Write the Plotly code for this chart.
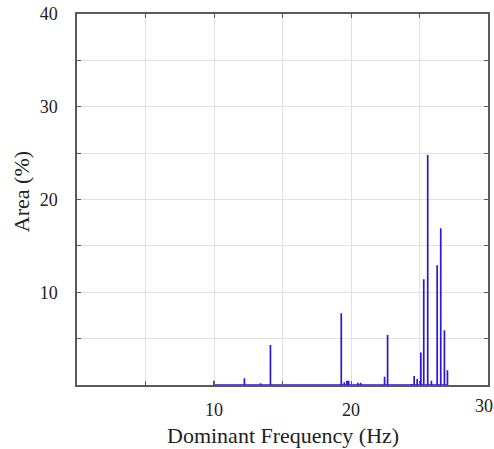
import plotly.graph_objects as go

# Dominant frequency (Hz) of each spike and its area (%)
freq = [10.0, 12.22, 13.4, 14.12, 19.29, 19.51, 19.7, 19.83, 20.5, 20.7,
        22.45, 22.67, 24.42, 24.61, 24.83, 25.1, 25.31, 25.6, 25.87,
        26.29, 26.55, 26.82, 27.04]
area = [0.45, 0.72, 0.2, 4.3, 7.73, 0.3, 0.47, 0.47, 0.25, 0.25,
        0.9, 5.4, 0.1, 0.97, 0.65, 3.5, 11.4, 24.8, 0.47,
        12.9, 16.9, 5.9, 1.6]

x_ticks = [0, 5, 10, 15, 20, 25, 30]
x_text = ["", "", "10", "", "20", "", ""]
x_edge_label = "30"
y_ticks = [0, 5, 10, 15, 20, 25, 30, 35, 40]
y_text = ["", "", "10", "", "20", "", "30", "", "40"]

# build spike polyline from the data
xs, ys = [], []
for f, a in zip(freq, area):
    xs += [f, f, f]
    ys += [0, a, 0]

fig = go.Figure()
fig.add_trace(go.Scatter(x=xs, y=ys, mode="lines",
                         line=dict(color="#2a17d8", width=1.7),
                         showlegend=False, hoverinfo="skip"))

font_family = "Liberation Serif, Times New Roman, serif"
tick_font = dict(family=font_family, size=18, color="#222")
axis_common = dict(
    showline=True, linecolor="#5a5a5a", linewidth=1.5, mirror="ticks",
    ticks="inside", ticklen=4, tickcolor="#5a5a5a", tickwidth=1,
    showgrid=True, gridcolor="#e2e2e2", gridwidth=1, zeroline=False,
    tickfont=tick_font,
    automargin=False, ticklabeloverflow="allow",
)
fig.update_xaxes(range=[0, 30], tickmode="array", tickvals=x_ticks, ticktext=x_text,
                 ticklabelstandoff=8, **axis_common)
fig.update_yaxes(range=[0, 40], tickmode="array", tickvals=y_ticks, ticktext=y_text,
                 ticklabelstandoff=14, **axis_common)
fig.update_layout(width=494, height=449,
                  margin=dict(l=77, r=6, t=14, b=64),
                  plot_bgcolor="white", paper_bgcolor="white",
                  annotations=[
                      dict(text=x_edge_label, xref="x", yref="paper",
                           x=x_ticks[-1], y=-0.057, xanchor="center", yanchor="middle",
                           xshift=-4, showarrow=False, font=tick_font),
                      dict(text="Dominant Frequency (Hz)", xref="paper", yref="paper",
                           x=0.5, y=-0.136, xanchor="center", yanchor="middle",
                           showarrow=False,
                           font=dict(family=font_family, size=22, color="#222")),
                      dict(text="Area (%)", xref="paper", yref="paper",
                           x=-0.136, y=0.52, xanchor="center", yanchor="middle",
                           textangle=-90, showarrow=False,
                           font=dict(family=font_family, size=22, color="#222")),
                  ])
fig.write_html("out.html", config={"displayModeBar": False},
               post_script="document.body.style.margin='0';")
